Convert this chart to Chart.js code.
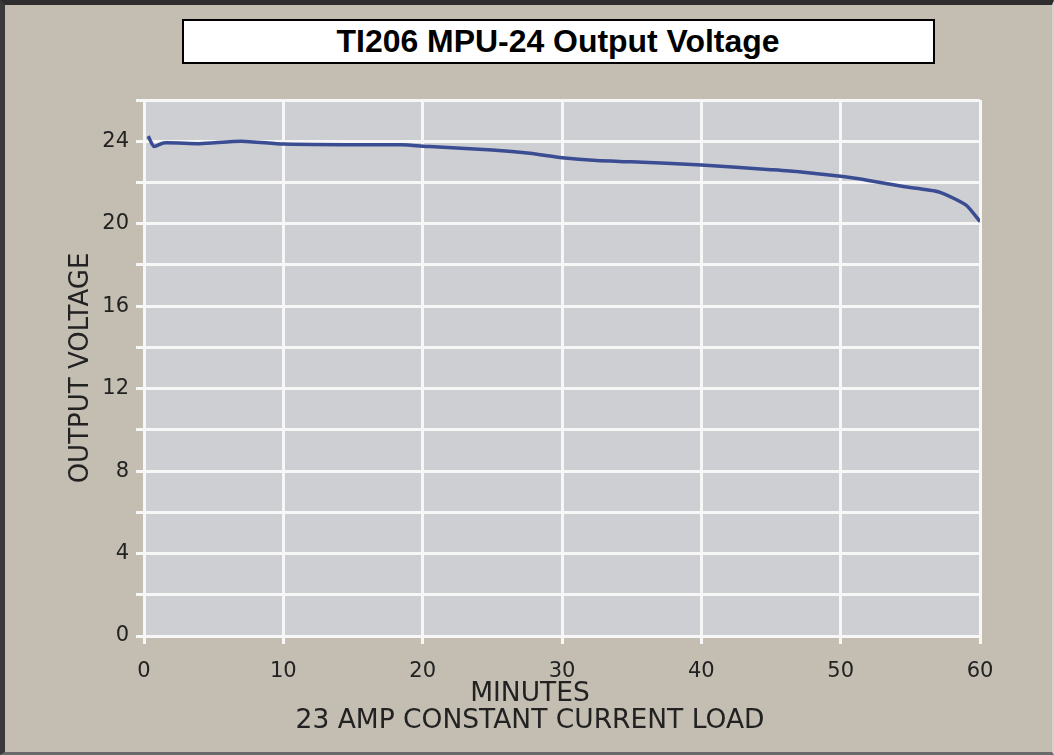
<!DOCTYPE html>
<html>
<head>
<meta charset="utf-8">
<script src="https://cdn.jsdelivr.net/npm/chart.js@4"></script>
<style>
  html, body { margin: 0; padding: 0; }
  body { width: 1054px; height: 755px; background: #c4beb2; position: relative; overflow: hidden; }
  #frame { position: absolute; left: 0; top: 0; width: 1054px; height: 755px; box-sizing: border-box;
    border-top: 5px solid #2e2e2e; border-left: 5px solid #3a3a3a; border-bottom: 3px solid #6a6a6a; border-right: 2px solid #d6d2ca;
    pointer-events: none; }
  #chartWrap { position: absolute; left: 0; top: 0; width: 1054px; height: 755px; }
  #titleBox { position: absolute; left: 182px; top: 19px; width: 753px; height: 45px; box-sizing: border-box;
    border: 2px solid #000; background: #fff; text-align: center;
    font: bold 31px "Liberation Sans", Arial, sans-serif; line-height: 41px; color: #000; }
  #titleBox span { display: inline-block; transform: scaleX(1.03); }
</style>
</head>
<body>
<div id="chartWrap"><canvas id="voltChart" width="1054" height="755"></canvas></div>
<div id="titleBox"><span>TI206 MPU-24 Output Voltage</span></div>
<div id="frame"></div>
<script>
// values
const minutes = [0.3, 0.7, 1.4, 4, 7, 10, 15, 18.5, 20.5, 25, 27.7, 30, 32.5, 35, 40, 45, 47, 50, 52, 54.5, 57, 59, 60];
const volts = [24.25, 23.75, 23.92, 23.88, 24.0, 23.86, 23.83, 23.83, 23.74, 23.58, 23.42, 23.2, 23.06, 23.0, 22.85, 22.62, 22.52, 22.3, 22.1, 21.8, 21.55, 20.9, 20.1];

const xTicks = [0, 10, 20, 30, 40, 50, 60];
const yLabelValues = [0, 4, 8, 12, 16, 20, 24];
const xTitleLines = ['MINUTES', '23 AMP CONSTANT CURRENT LOAD'];

const axisFont = { family: '"DejaVu Sans", sans-serif', size: 21 };

// grey plotting area behind the grid
const plotBackground = {
    id: 'plotBackground',
    beforeDraw(chart) {
        const { ctx, chartArea } = chart;
        ctx.save();
        ctx.fillStyle = '#cdcfd3';
        ctx.fillRect(chartArea.left, chartArea.top, chartArea.right - chartArea.left, chartArea.bottom - chartArea.top);
        ctx.restore();
    }
};

// x axis title sits a bit left of the plot centre in the original
const xTitle = {
    id: 'xTitle',
    afterDraw(chart) {
        const { ctx } = chart;
        ctx.save();
        ctx.font = '26.5px "DejaVu Sans", sans-serif';
        ctx.fillStyle = '#222';
        ctx.textAlign = 'center';
        ctx.textBaseline = 'middle';
        xTitleLines.forEach((t, i) => ctx.fillText(t, 530, 694 + i * 27));
        ctx.restore();
    }
};

const ctx = document.getElementById('voltChart').getContext('2d');
new Chart(ctx, {
    type: 'scatter',
    data: {
        datasets: [{
            data: minutes.map((m, i) => ({ x: m, y: volts[i] })),
            showLine: true,
            borderColor: '#3a4c92',
            borderWidth: 3.5,
            pointRadius: 0,
            tension: 0.2
        }]
    },
    options: {
        responsive: false,
        animation: false,
        layout: { padding: { left: 0, top: 100, right: 74, bottom: 0 } },
        plugins: { legend: { display: false }, tooltip: { enabled: false } },
        scales: {
            x: {
                type: 'linear',
                min: 0,
                max: 60,
                afterBuildTicks: scale => { scale.ticks = xTicks.map(v => ({ value: v })); },
                afterFit: scale => { scale.height = 119; },
                grid: { color: '#f7f7f7', lineWidth: 3, tickLength: 8, tickColor: '#f7f7f7', tickWidth: 3 },
                border: { display: false },
                ticks: { font: axisFont, color: '#222', padding: 15, maxRotation: 0 }
            },
            y: {
                min: 0,
                max: 26,
                afterFit: scale => { scale.width = 144; },
                grid: { color: '#f7f7f7', lineWidth: 3, tickLength: 8, tickColor: '#f7f7f7', tickWidth: 3 },
                border: { display: false },
                ticks: {
                    stepSize: 2,
                    font: axisFont,
                    color: '#222',
                    padding: 7,
                    callback: v => yLabelValues.includes(v) ? v : ''
                },
                title: {
                    display: true,
                    text: 'OUTPUT VOLTAGE',
                    font: { family: '"DejaVu Sans", sans-serif', size: 26 },
                    color: '#222',
                    padding: { top: 66, bottom: 0 }
                }
            }
        }
    },
    plugins: [plotBackground, xTitle]
});
</script>
</body>
</html>
